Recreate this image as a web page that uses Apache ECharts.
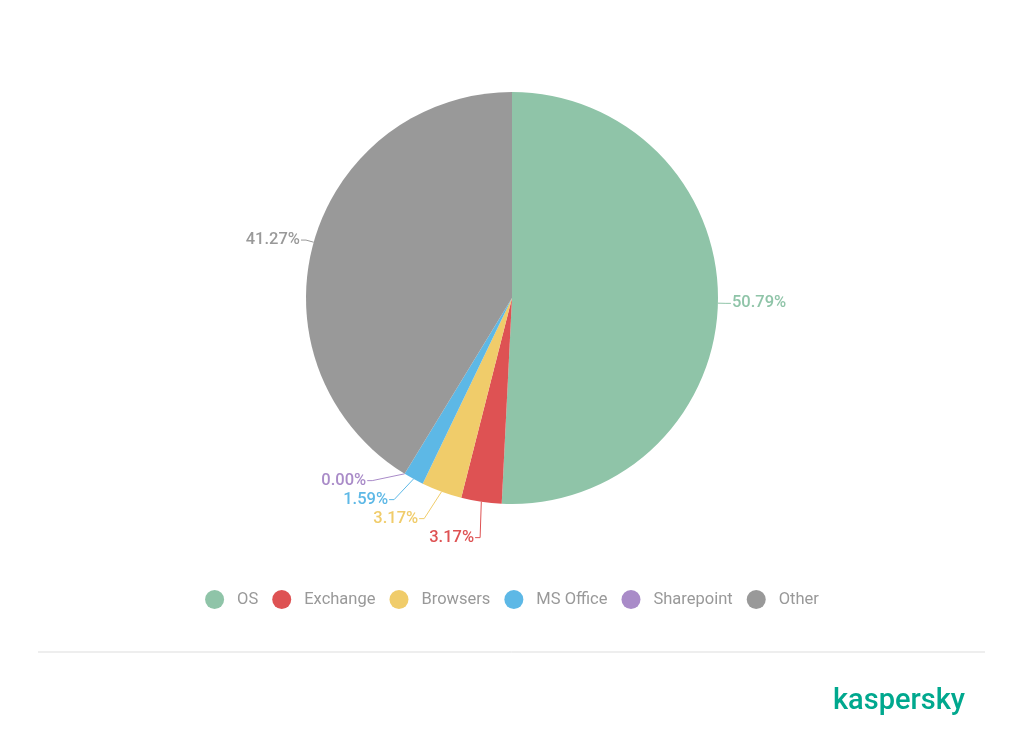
<!DOCTYPE html>
<html><head><meta charset="utf-8">
<script src="https://cdn.jsdelivr.net/npm/echarts@6/dist/echarts.min.js"></script>
<style>html,body{margin:0;padding:0;background:#fff}#c{width:1024px;height:756px}</style>
</head><body><div id="c"></div>
<script>
const categories = ['OS', 'Exchange', 'Browsers', 'MS Office', 'Sharepoint', 'Other'];
const values = [50.79, 3.17, 3.17, 1.59, 0.00, 41.27];
const colors = ['#8fc4a8', '#de5253', '#f0cc6a', '#5db8e6', '#a98bc8', '#999999'];

const chart = echarts.init(document.getElementById('c'));
chart.setOption({
  animation: false,
  color: colors,
  textStyle: { fontFamily: 'Roboto' },
  legend: {
    top: 585, left: 'center',
    icon: 'circle', itemWidth: 19, itemHeight: 19, itemGap: 14,
    textStyle: { color: '#999', fontSize: 16.5, fontFamily: 'Roboto', padding: [0, 0, 0, 8] },
    data: categories
  },
  graphic: [
    { type: 'line', shape: { x1: 38, y1: 652, x2: 985, y2: 652 }, style: { stroke: '#dddddd', lineWidth: 1 } },
    { type: 'text', left: 833, top: 687, style: { text: 'kaspersky', fill: '#00a88e', font: '500 29px Roboto' } }
  ],
  series: [{
    type: 'pie',
    center: [512, 298],
    radius: [0, 206],
    startAngle: 90,
    clockwise: true,
    data: categories.map((n, i) => ({ name: n, value: values[i] })),
    label: {
      show: true,
      formatter: p => p.value.toFixed(2) + '%',
      color: 'inherit',
      fontSize: 16.5,
      fontWeight: 500,
      fontFamily: 'Roboto',
      distanceToLabelLine: 1
    },
    labelLine: { show: true, length: 8, length2: 5, smooth: false },
    itemStyle: { borderWidth: 0 },
    emphasis: { disabled: true }
  }]
});
</script></body></html>
